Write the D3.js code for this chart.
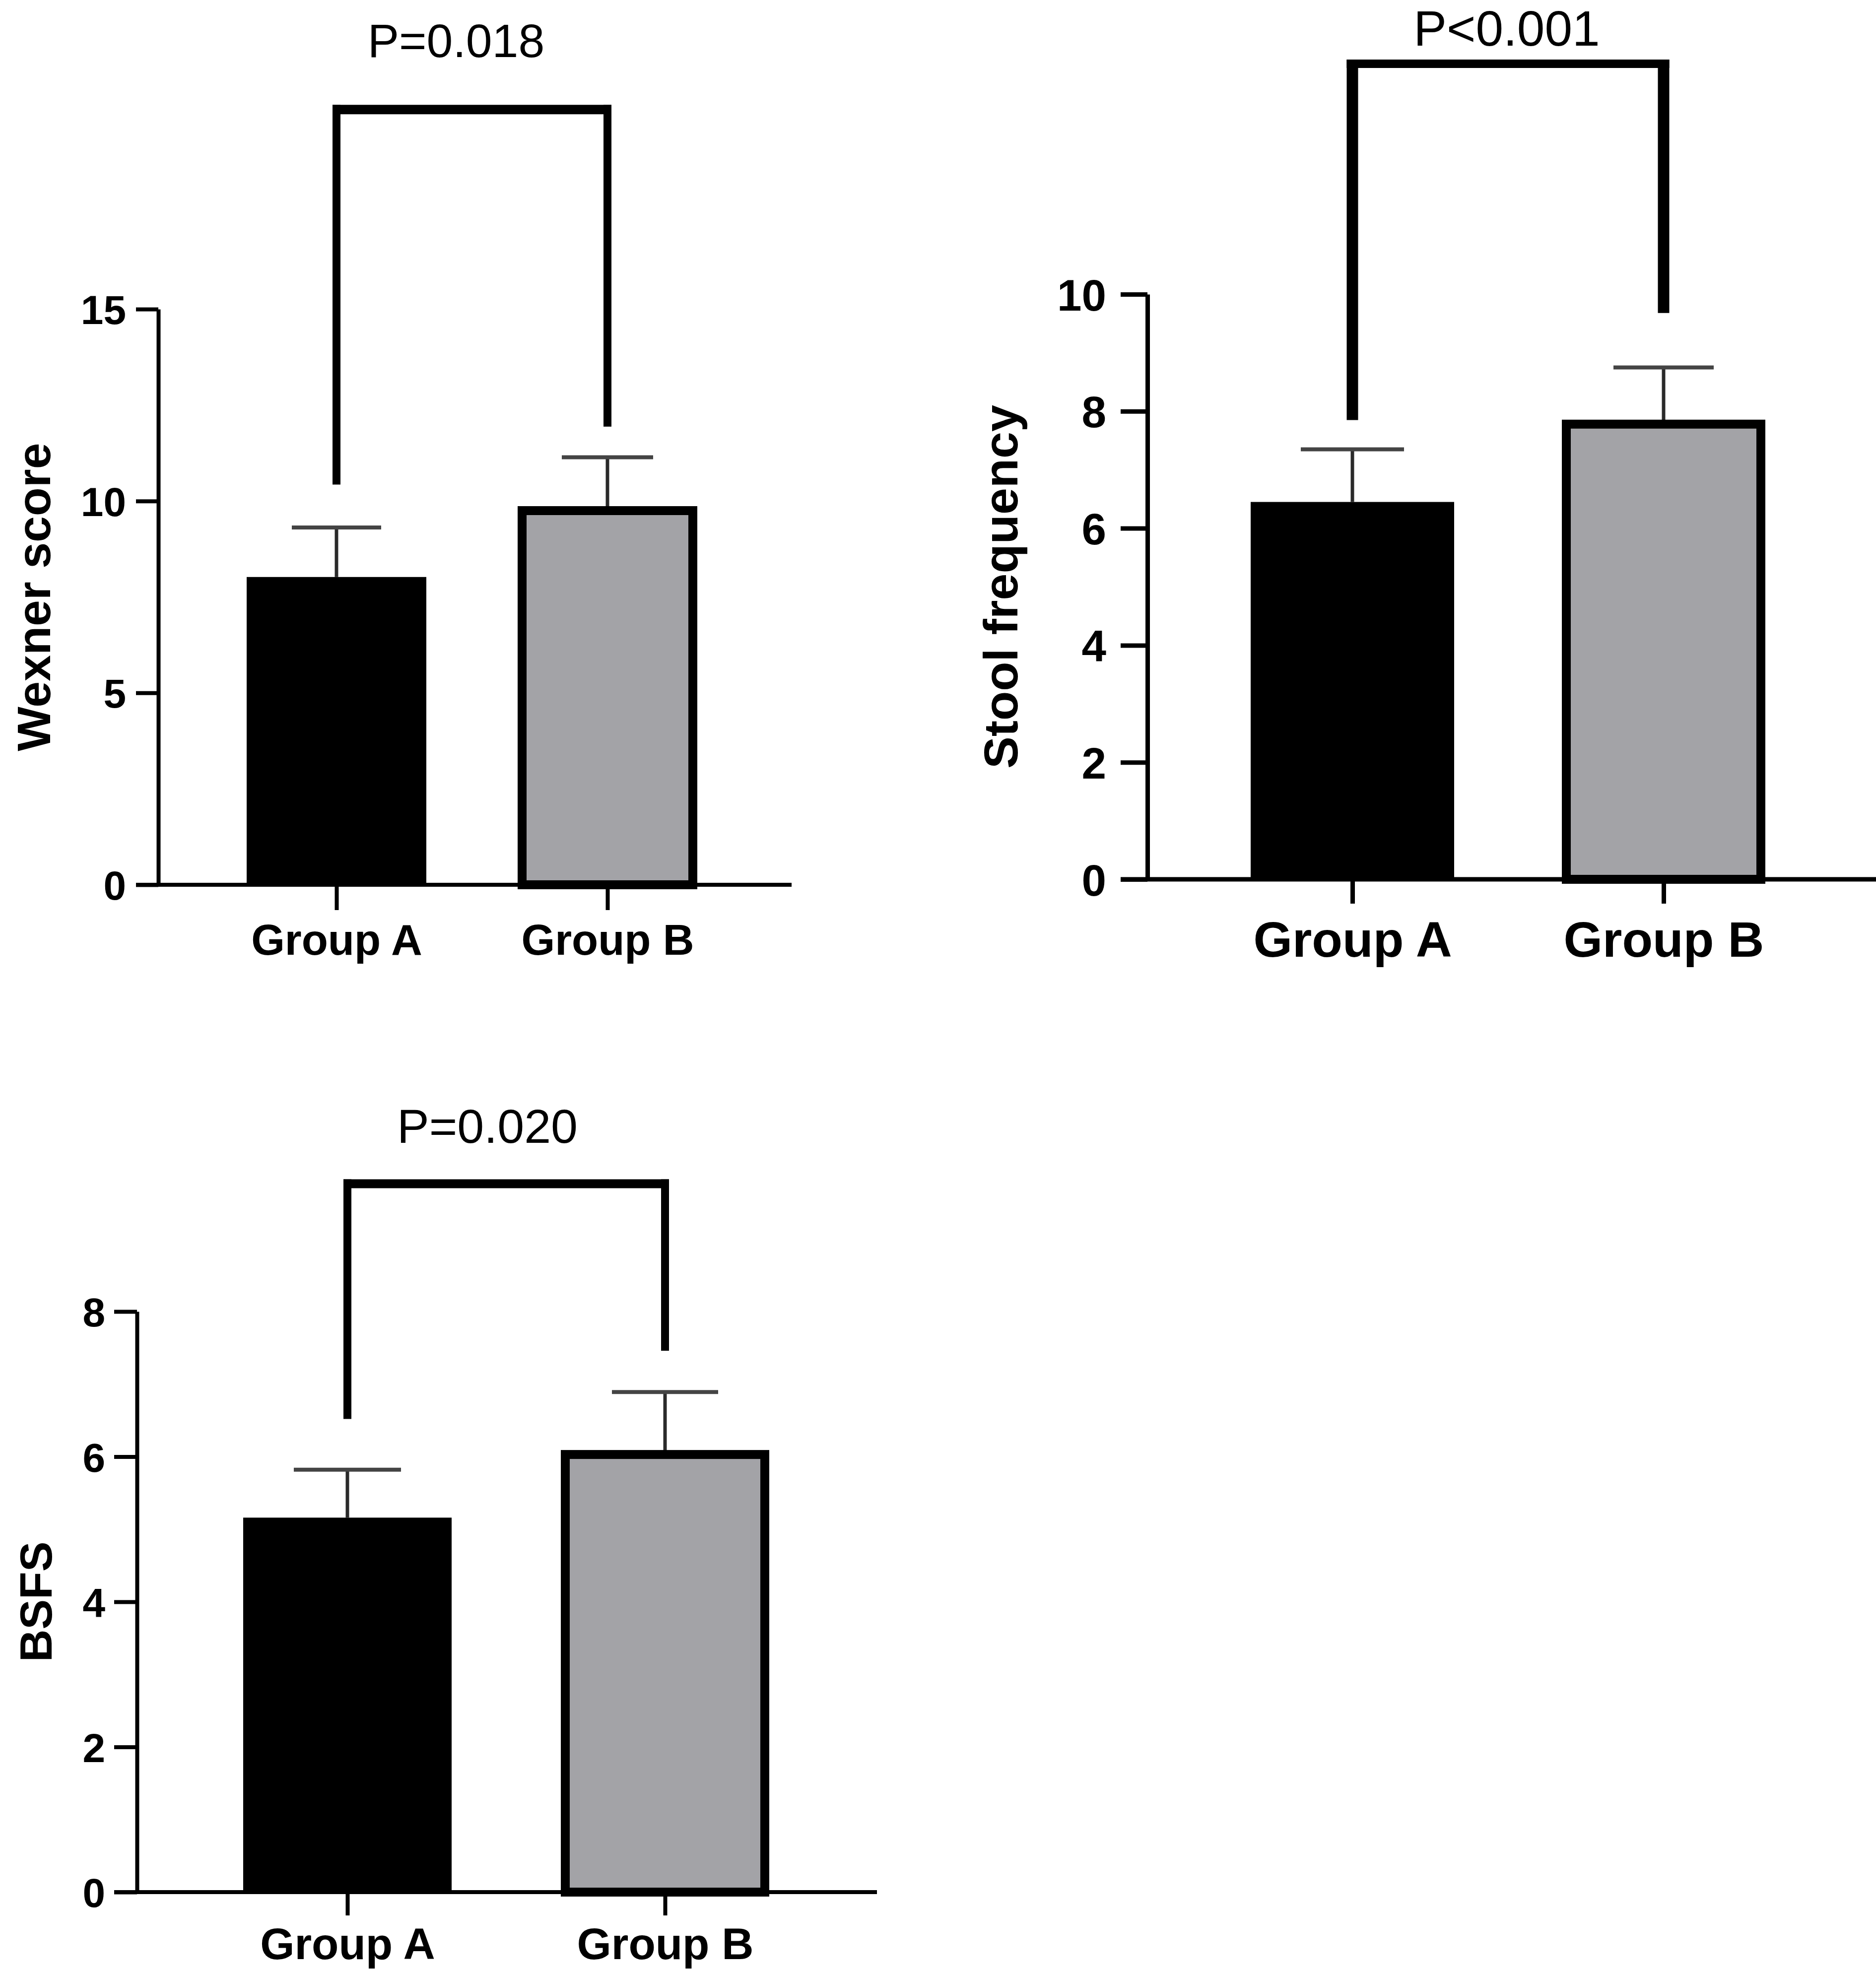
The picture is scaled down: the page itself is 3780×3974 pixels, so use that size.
<!DOCTYPE html>
<html><head><meta charset="utf-8">
<script src="https://cdn.jsdelivr.net/npm/d3@7"></script>
<style>html,body{margin:0;padding:0;background:#fff;}svg{display:block;}</style>
</head><body>
<script>
// ---- data ----
const groups = ["Group A", "Group B"];
const wexnerMean = [8.02, 9.75];
const wexnerErr = [1.29, 1.39];
const stoolMean = [6.45, 7.78];
const stoolErr = [0.90, 0.97];
const bsfsMean = [5.16, 6.03];
const bsfsErr = [0.66, 0.86];
const wexnerTicks = [0, 5, 10, 15];
const stoolTicks = [0, 2, 4, 6, 8, 10];
const bsfsTicks = [0, 2, 4, 6, 8];
const pLabels = ["P=0.018", "P<0.001", "P=0.020"];
const yLabels = ["Wexner score", "Stool frequency", "BSFS"];
// bracket heights in data units: [left end, top, right end]
const wexnerBracket = [10.43, 20.2, 11.94];
const stoolBracket = [7.85, 13.94, 9.68];
const bsfsBracket = [6.52, 9.76, 7.46];

const W = 3780, H = 3974;
const FONT = "'Liberation Sans', Arial, Helvetica, sans-serif";
const fills = ["#000000", "#a3a3a7"];

const svg = d3.select("body").append("svg").attr("width", W).attr("height", H);

const panels = [
  {mean: wexnerMean, err: wexnerErr, ticks: wexnerTicks, p: pLabels[0], ylab: yLabels[0], br: wexnerBracket,
   axisX: 319, yTop: 623, yBot: 1783, tickStart: 274, xEnd: 1595, centers: [678, 1224], barW: 362,
   tickDown: 51, groupBase: 1924, groupFont: 87, tickFont: 82, tickRight: 254, ylabX: 101, ylabFont: 95,
   pX: 919, pBase: 115, pFont: 95, brV: 16, brH: 19, barStroke: 18, cap: [90, 92], axisW: 8},
  {mean: stoolMean, err: stoolErr, ticks: stoolTicks, p: pLabels[1], ylab: yLabels[1], br: stoolBracket,
   axisX: 2312, yTop: 593, yBot: 1772, tickStart: 2258, xEnd: 3780, centers: [2725, 3352], barW: 410,
   tickDown: 49, groupBase: 1928, groupFont: 101, tickFont: 89, tickRight: 2229, ylabX: 2050, ylabFont: 97,
   pX: 3036, pBase: 92, pFont: 100, brV: 23, brH: 17, barStroke: 18, cap: [104, 101], axisW: 9},
  {mean: bsfsMean, err: bsfsErr, ticks: bsfsTicks, p: pLabels[2], ylab: yLabels[2], br: bsfsBracket,
   axisX: 276, yTop: 2643, yBot: 3813, tickStart: 230, xEnd: 1767, centers: [700, 1340], barW: 420,
   tickDown: 47, groupBase: 3948, groupFont: 89, tickFont: 82, tickRight: 212, ylabX: 104, ylabFont: 91,
   pX: 982, pBase: 2303, pFont: 97, brV: 16, brH: 18, barStroke: 18, cap: [108, 107], axisW: 8}
];

panels.forEach(cfg => {
  const g = svg.append("g");
  const y = d3.scaleLinear().domain([0, d3.max(cfg.ticks)]).range([cfg.yBot, cfg.yTop]);
  const x = d3.scalePoint().domain(groups).range(cfg.centers);
  const data = groups.map((k, i) => ({k, i, m: cfg.mean[i], e: cfg.err[i]}));

  // error bars (drawn first, bars cover the lower part)
  g.selectAll(".err").data(data).join("g").each(function(d) {
    const e = d3.select(this);
    const cx = x(d.k);
    e.append("line").attr("x1", cx).attr("x2", cx).attr("y1", y(d.m)).attr("y2", y(d.m + d.e))
      .attr("stroke", "#2a2a2a").attr("stroke-width", 7);
    e.append("line").attr("x1", cx - cfg.cap[d.i]).attr("x2", cx + cfg.cap[d.i])
      .attr("y1", y(d.m + d.e)).attr("y2", y(d.m + d.e))
      .attr("stroke", "#444").attr("stroke-width", 8);
  });

  // bars
  g.selectAll(".bar").data(data).join("rect")
    .attr("x", d => d.i === 0 ? x(d.k) - cfg.barW / 2 : x(d.k) - cfg.barW / 2 + cfg.barStroke / 2)
    .attr("width", d => d.i === 0 ? cfg.barW : cfg.barW - cfg.barStroke)
    .attr("y", d => y(d.m))
    .attr("height", d => y(0) - y(d.m))
    .attr("fill", d => fills[d.i])
    .attr("stroke", d => d.i === 0 ? "none" : "#000")
    .attr("stroke-width", cfg.barStroke);

  // y axis
  const ya = g.append("g").attr("transform", `translate(${cfg.axisX},0)`)
    .call(d3.axisLeft(y).tickValues(cfg.ticks).tickSize(cfg.axisX - cfg.tickStart).tickSizeOuter(0).tickPadding(cfg.tickStart - cfg.tickRight));
  ya.select(".domain").attr("stroke", "#000").attr("stroke-width", cfg.axisW);
  ya.selectAll(".tick line").attr("stroke", "#000").attr("stroke-width", cfg.axisW);
  ya.selectAll(".tick text").attr("font-family", FONT).attr("font-size", cfg.tickFont)
    .attr("font-weight", "bold").attr("fill", "#000").attr("dy", "0.36em");

  // x axis baseline + ticks
  g.append("line").attr("x1", cfg.tickStart).attr("x2", cfg.xEnd).attr("y1", y(0)).attr("y2", y(0))
    .attr("stroke", "#000").attr("stroke-width", cfg.axisW);
  const xa = g.append("g").attr("transform", `translate(0,${y(0)})`)
    .call(d3.axisBottom(x).tickSize(cfg.tickDown).tickSizeOuter(0));
  xa.select(".domain").remove();
  xa.selectAll(".tick line").attr("stroke", "#000").attr("stroke-width", cfg.axisW);
  xa.selectAll(".tick text").attr("font-family", FONT).attr("font-size", cfg.groupFont)
    .attr("font-weight", "bold").attr("fill", "#000")
    .attr("y", cfg.groupBase - y(0)).attr("dy", 0);

  // y label
  g.append("text")
    .attr("transform", `translate(${cfg.ylabX},${(cfg.yTop + cfg.yBot) / 2}) rotate(-90)`)
    .attr("text-anchor", "middle").attr("font-family", FONT).attr("font-weight", "bold")
    .attr("font-size", cfg.ylabFont).attr("fill", "#000").text(cfg.ylab);

  // significance bracket
  const [c0, c1] = groups.map(k => x(k));
  const yt = y(cfg.br[1]);
  const segs = [
    {x1: c0, x2: c0, y1: y(cfg.br[0]), y2: yt - cfg.brH / 2, w: cfg.brV},
    {x1: c0 - cfg.brV / 2, x2: c1 + cfg.brV / 2, y1: yt, y2: yt, w: cfg.brH},
    {x1: c1, x2: c1, y1: yt - cfg.brH / 2, y2: y(cfg.br[2]), w: cfg.brV}
  ];
  g.selectAll(".br").data(segs).join("line")
    .attr("x1", d => d.x1).attr("x2", d => d.x2).attr("y1", d => d.y1).attr("y2", d => d.y2)
    .attr("stroke", "#000").attr("stroke-width", d => d.w).attr("stroke-linecap", "butt");

  g.append("text").attr("x", cfg.pX).attr("y", cfg.pBase).attr("text-anchor", "middle")
    .attr("font-family", FONT).attr("font-size", cfg.pFont).attr("fill", "#000").text(cfg.p);
});
</script>
</body></html>
